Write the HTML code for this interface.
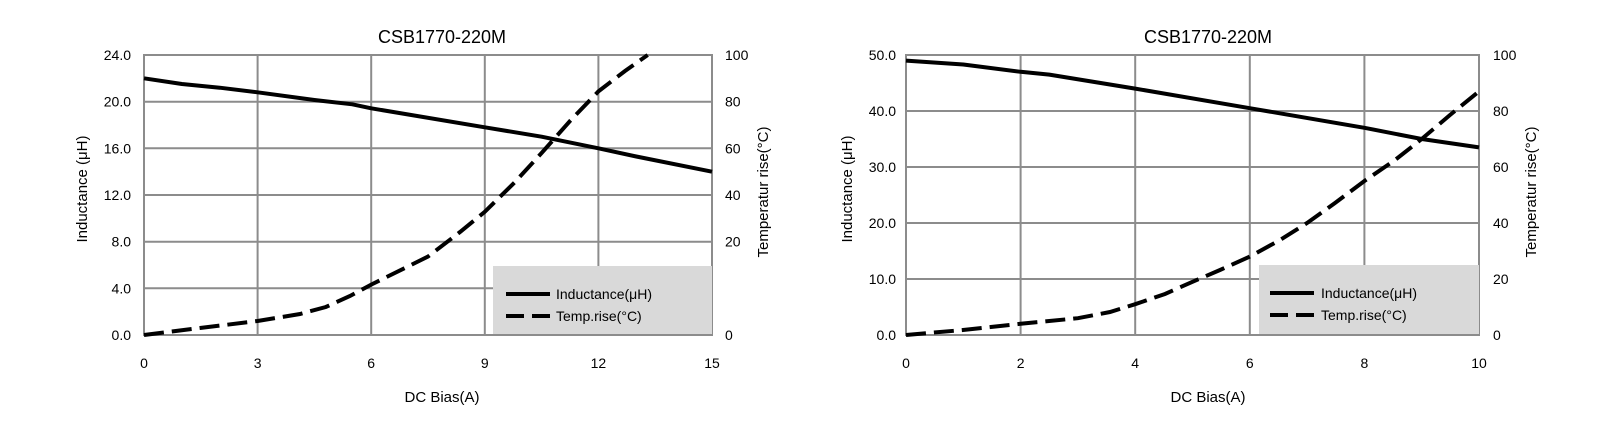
<!DOCTYPE html>
<html><head><meta charset="utf-8"><style>
html,body{margin:0;padding:0;background:#fff;}
svg{display:block;font-family:"Liberation Sans Narrow","Liberation Sans",sans-serif;}
</style></head><body>
<svg width="1614" height="428" viewBox="0 0 1614 428" xmlns="http://www.w3.org/2000/svg">
<rect width="1614" height="428" fill="#fff"/>
<!-- LEFT CHART -->
<g stroke="#8c8c8c" stroke-width="2" fill="none">
<rect x="144" y="55" width="568" height="280"/>
<line x1="257.6" y1="55" x2="257.6" y2="335"/><line x1="371.2" y1="55" x2="371.2" y2="335"/>
<line x1="484.8" y1="55" x2="484.8" y2="335"/><line x1="598.4" y1="55" x2="598.4" y2="335"/>
<line x1="144" y1="101.7" x2="712" y2="101.7"/><line x1="144" y1="148.3" x2="712" y2="148.3"/>
<line x1="144" y1="195" x2="712" y2="195"/><line x1="144" y1="241.7" x2="712" y2="241.7"/>
<line x1="144" y1="288.3" x2="712" y2="288.3"/>
</g>
<rect x="493" y="266" width="219" height="68" fill="#d9d9d9"/>
<line x1="506" y1="294" x2="550" y2="294" stroke="#000" stroke-width="4"/>
<line x1="506" y1="316" x2="550" y2="316" stroke="#000" stroke-width="4" stroke-dasharray="18,8"/>
<text x="556" y="299" font-size="14">Inductance(μH)</text>
<text x="556" y="321" font-size="14">Temp.rise(°C)</text>
<polyline fill="none" stroke="#000" stroke-width="4" stroke-linejoin="round" points="144,78.3 181.9,84 219.7,87.7 257.6,92.3 314.4,100 352.3,104.3 371.2,108.3 484.8,127.3 541.6,136.7 598.4,148.3 636.3,156.5 712,171.7"/>
<polyline fill="none" stroke="#000" stroke-width="4" stroke-dasharray="20,8" points="144,335 200,328 257.6,321 300,314 325.8,307 350,296 371.2,284.6 428,256.6 460,232 484.8,211.8 515,182 541.6,153 570,121 598.4,91.4 625,71 647.7,55"/>
<g font-size="14" fill="#000">
<text x="442" y="43" font-size="18" text-anchor="middle">CSB1770-220M</text>
<g text-anchor="end">
<text x="131" y="60">24.0</text><text x="131" y="106.7">20.0</text><text x="131" y="153.3">16.0</text>
<text x="131" y="200">12.0</text><text x="131" y="246.7">8.0</text><text x="131" y="293.3">4.0</text><text x="131" y="340">0.0</text>
</g>
<text x="725" y="60">100</text><text x="725" y="106.7">80</text><text x="725" y="153.3">60</text>
<text x="725" y="200">40</text><text x="725" y="246.7">20</text><text x="725" y="340">0</text>
<g text-anchor="middle">
<text x="144" y="368">0</text><text x="257.6" y="368">3</text><text x="371.2" y="368">6</text>
<text x="484.8" y="368">9</text><text x="598.4" y="368">12</text><text x="712" y="368">15</text>
<text x="442" y="402" font-size="15">DC Bias(A)</text>
<text transform="translate(87,189) rotate(-90)" font-size="15">Inductance (μH)</text>
<text transform="translate(768,192) rotate(-90)" font-size="15">Temperatur rise(°C)</text>
</g>
</g>
<!-- RIGHT CHART -->
<g stroke="#8c8c8c" stroke-width="2" fill="none">
<rect x="906" y="55" width="573" height="280"/>
<line x1="1020.6" y1="55" x2="1020.6" y2="335"/><line x1="1135.2" y1="55" x2="1135.2" y2="335"/>
<line x1="1249.8" y1="55" x2="1249.8" y2="335"/><line x1="1364.4" y1="55" x2="1364.4" y2="335"/>
<line x1="906" y1="111" x2="1479" y2="111"/><line x1="906" y1="167" x2="1479" y2="167"/>
<line x1="906" y1="223" x2="1479" y2="223"/><line x1="906" y1="279" x2="1479" y2="279"/>
</g>
<rect x="1259" y="265" width="220" height="69" fill="#d9d9d9"/>
<line x1="1270" y1="293" x2="1314" y2="293" stroke="#000" stroke-width="4"/>
<line x1="1270" y1="315" x2="1314" y2="315" stroke="#000" stroke-width="4" stroke-dasharray="18,8"/>
<text x="1321" y="298" font-size="14">Inductance(μH)</text>
<text x="1321" y="320" font-size="14">Temp.rise(°C)</text>
<polyline fill="none" stroke="#000" stroke-width="4" stroke-linejoin="round" points="906,60.6 963.3,64.5 1020.6,71.8 1049.3,74.6 1135.2,88.6 1249.8,108.2 1364.4,127.8 1421.7,139 1479,147.4"/>
<polyline fill="none" stroke="#000" stroke-width="4" stroke-dasharray="20,8" points="906,335 963,330 1020.6,323.8 1077.9,318.2 1110,312 1135.2,304.2 1165,294 1192.5,281.8 1220,270 1249.8,256.6 1280,240 1307.1,223 1335,203 1364.4,181 1395,160 1421.7,139 1450,115 1479,91.4"/>
<g font-size="14" fill="#000">
<text x="1208" y="43" font-size="18" text-anchor="middle">CSB1770-220M</text>
<g text-anchor="end">
<text x="896" y="60">50.0</text><text x="896" y="116">40.0</text><text x="896" y="172">30.0</text>
<text x="896" y="228">20.0</text><text x="896" y="284">10.0</text><text x="896" y="340">0.0</text>
</g>
<text x="1493" y="60">100</text><text x="1493" y="116">80</text><text x="1493" y="172">60</text>
<text x="1493" y="228">40</text><text x="1493" y="284">20</text><text x="1493" y="340">0</text>
<g text-anchor="middle">
<text x="906" y="368">0</text><text x="1020.6" y="368">2</text><text x="1135.2" y="368">4</text>
<text x="1249.8" y="368">6</text><text x="1364.4" y="368">8</text><text x="1479" y="368">10</text>
<text x="1208" y="402" font-size="15">DC Bias(A)</text>
<text transform="translate(852,189) rotate(-90)" font-size="15">Inductance (μH)</text>
<text transform="translate(1536,192) rotate(-90)" font-size="15">Temperatur rise(°C)</text>
</g>
</g>
</svg>
</body></html>
